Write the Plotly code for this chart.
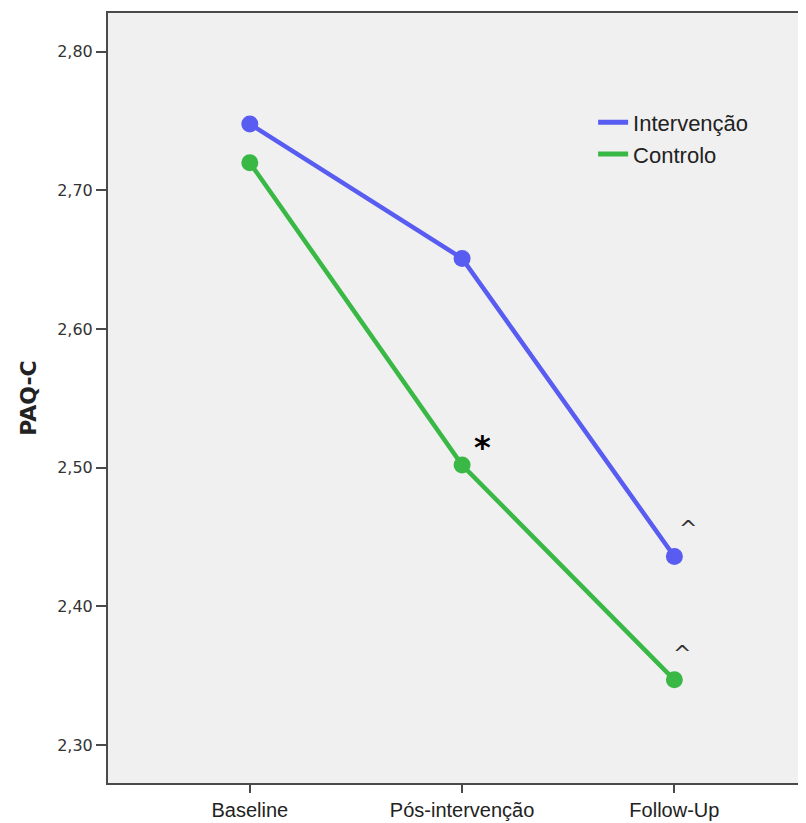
import plotly.graph_objects as go

categories = ["Baseline", "Pós-intervenção", "Follow-Up"]
intervencao = [2.748, 2.651, 2.436]
controlo = [2.720, 2.502, 2.347]
y_ticks = [2.30, 2.40, 2.50, 2.60, 2.70, 2.80]
y_tick_labels = ["2,30", "2,40", "2,50", "2,60", "2,70", "2,80"]

blue = "rgb(88,92,240)"
green = "rgb(58,184,70)"

fig = go.Figure()
x_idx = list(range(len(categories)))
fig.add_trace(go.Scatter(x=x_idx, y=intervencao, mode="lines+markers",
                         line=dict(color=blue, width=4.5), marker=dict(size=17, color=blue),
                         showlegend=False))
fig.add_trace(go.Scatter(x=x_idx, y=controlo, mode="lines+markers",
                         line=dict(color=green, width=4.5), marker=dict(size=17, color=green),
                         showlegend=False))
fig.add_trace(go.Scatter(x=[None], y=[None], mode="lines", name="Intervenção",
                         line=dict(color=blue, width=5)))
fig.add_trace(go.Scatter(x=[None], y=[None], mode="lines", name="Controlo",
                         line=dict(color=green, width=5)))

# significance markers
fig.add_annotation(x=1, y=controlo[1], text="<b>*</b>", showarrow=False,
                   xshift=20, yshift=18, font=dict(size=32, color="black", family="DejaVu Sans"))
fig.add_annotation(x=2, y=intervencao[2], text="^", showarrow=False,
                   xshift=14, yshift=28, font=dict(size=22, color="#333", family="DejaVu Sans"))
fig.add_annotation(x=2, y=controlo[2], text="^", showarrow=False,
                   xshift=8, yshift=26, font=dict(size=22, color="#333", family="DejaVu Sans"))

fig.update_layout(
    width=798, height=815,
    margin=dict(l=100, r=0, t=5, b=40, autoexpand=False),
    paper_bgcolor="white", plot_bgcolor="#f0f0f0",
    legend=dict(x=0.695, y=0.885, xanchor="left", yanchor="top",
                bgcolor="rgba(0,0,0,0)", font=dict(size=22, color="#222", family="Liberation Sans"),
                tracegroupgap=0, itemwidth=30),
    showlegend=True,
)
fig.update_xaxes(range=[-0.668, 2.62], tickmode="array", tickvals=x_idx, ticktext=categories,
                 showgrid=False, zeroline=False, showline=True, linecolor="#4a4a4a", linewidth=2,
                 mirror=True, ticks="outside", ticklen=8, tickcolor="#4a4a4a", tickwidth=2,
                 automargin=False, ticklabelstandoff=0,
                 tickfont=dict(size=20, color="#222", family="Liberation Sans"))
fig.update_yaxes(range=[2.2726, 2.828], tickmode="array", tickvals=y_ticks, ticktext=y_tick_labels,
                 showgrid=False, zeroline=False, showline=True, linecolor="#4a4a4a", linewidth=2,
                 ticks="outside", ticklen=10, tickcolor="#4a4a4a", tickwidth=2,
                 automargin=False,
                 tickfont=dict(size=16, color="#333", family="DejaVu Sans"),
                 title=dict(text="<b>PAQ-C</b>", font=dict(size=22, color="#222", family="DejaVu Sans"),
                            standoff=14))

fig.write_html("out.html")
